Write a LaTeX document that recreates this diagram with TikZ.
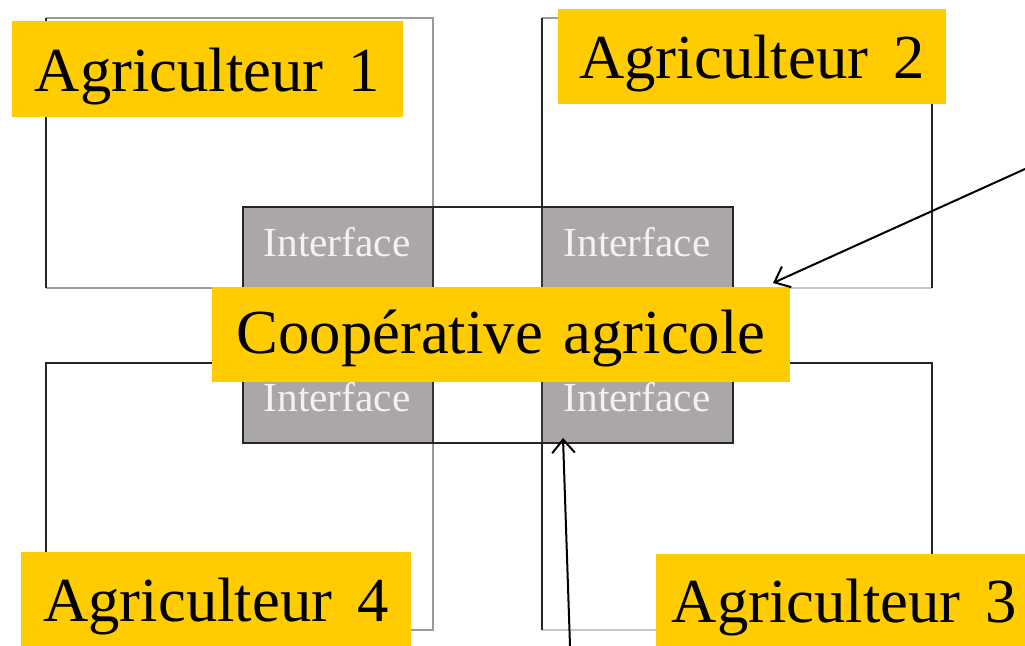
\documentclass[tikz,border=0pt]{standalone}
\usepackage{fontspec}
\setmainfont{Liberation Serif}
\usetikzlibrary{arrows.meta}
\definecolor{labyellow}{HTML}{FFCC00}
\definecolor{ifgray}{HTML}{ABA7A6}
\definecolor{edgegray}{HTML}{9A9A9A}
\definecolor{paleedge}{HTML}{C8C8C8}
\definecolor{ifwhite}{HTML}{F2F2F2}
\tikzset{
  darkedge/.style={draw=black!85, line width=1.4pt},
  lightedge/.style={draw=edgegray, line width=1.4pt},
  paleline/.style={draw=paleedge, line width=1.4pt},
  ifcol/.style={fill=ifgray, draw=black!80, line width=1.3pt},
  lab/.style={fill=labyellow, inner sep=0pt, font=\fontsize{47}{50}\selectfont, text=black,
    text height=37.6pt, text depth=3.8pt},
  iftext/.style={font=\fontsize{31}{34}\selectfont, text=ifwhite, inner sep=0pt},
  pointer/.style={draw=black, line width=1.5pt, -{Straight Barb[length=10pt,width=17pt,line width=1.5pt]}}
}
\begin{document}
\begin{tikzpicture}[x=0.75pt,y=-0.75pt]
\useasboundingbox (0,0) rectangle (1025,646);
% farmer frames
\draw[lightedge] (46,18) -- (433,18) -- (433,288) -- (46,288);
\draw[darkedge] (46,18) -- (46,288);
\draw[lightedge] (542,18) -- (932,18);
\draw[paleline] (542,288) -- (932,288);
\draw[darkedge] (542,288) -- (542,18);
\draw[darkedge] (932,18) -- (932,288);
\draw[lightedge] (433,363) -- (433,630) -- (46,630);
\draw[darkedge] (46,630) -- (46,363) -- (433,363);
\draw[paleline] (542,630) -- (932,630);
\draw[darkedge] (542,630) -- (542,363) -- (932,363) -- (932,630);
% interface area
\draw[ifcol] (243,207) rectangle (433,443);
\draw[ifcol] (542,207) rectangle (733,443);
\draw[darkedge] (243,207) rectangle (733,443);
\node[iftext] (if1) at (337,242) {Interface};
\node[iftext] (if2) at (637,242) {Interface};
\node[iftext] (if4) at (337,397) {Interface};
\node[iftext] (if3) at (637,397) {Interface};
% labels
\node[lab, minimum width=293.25pt, minimum height=72pt] (ag1) at (207.5,69) {Agriculteur\hspace{0.4em}1\hspace{8pt}};
\node[lab, minimum width=291pt, minimum height=71.25pt] (ag2) at (752,56) {Agriculteur\hspace{0.4em}2};
\node[lab, minimum width=292.5pt, minimum height=70.5pt] (ag4) at (216,599) {Agriculteur\hspace{0.4em}4};
\node[lab, minimum width=276.75pt, minimum height=69pt] (ag3) at (840.5,600) {\hspace{6pt}Agriculteur\hspace{0.4em}3};
\node[lab, minimum width=433.5pt, minimum height=71.25pt, text height=33.8pt, text depth=4.7pt] (coop) at (501,334.5) {Coopérative\hspace{0.33em}agricole\hspace{10pt}};
% pointers
\coordinate (p1s) at (1025,169);
\coordinate (p1e) at (773,283);
\coordinate (p2s) at (570,646);
\coordinate (p2e) at (563,438);
\draw[pointer] (p1s) -- (p1e);
\draw[pointer] (p2s) -- (p2e);
\end{tikzpicture}
\end{document}
